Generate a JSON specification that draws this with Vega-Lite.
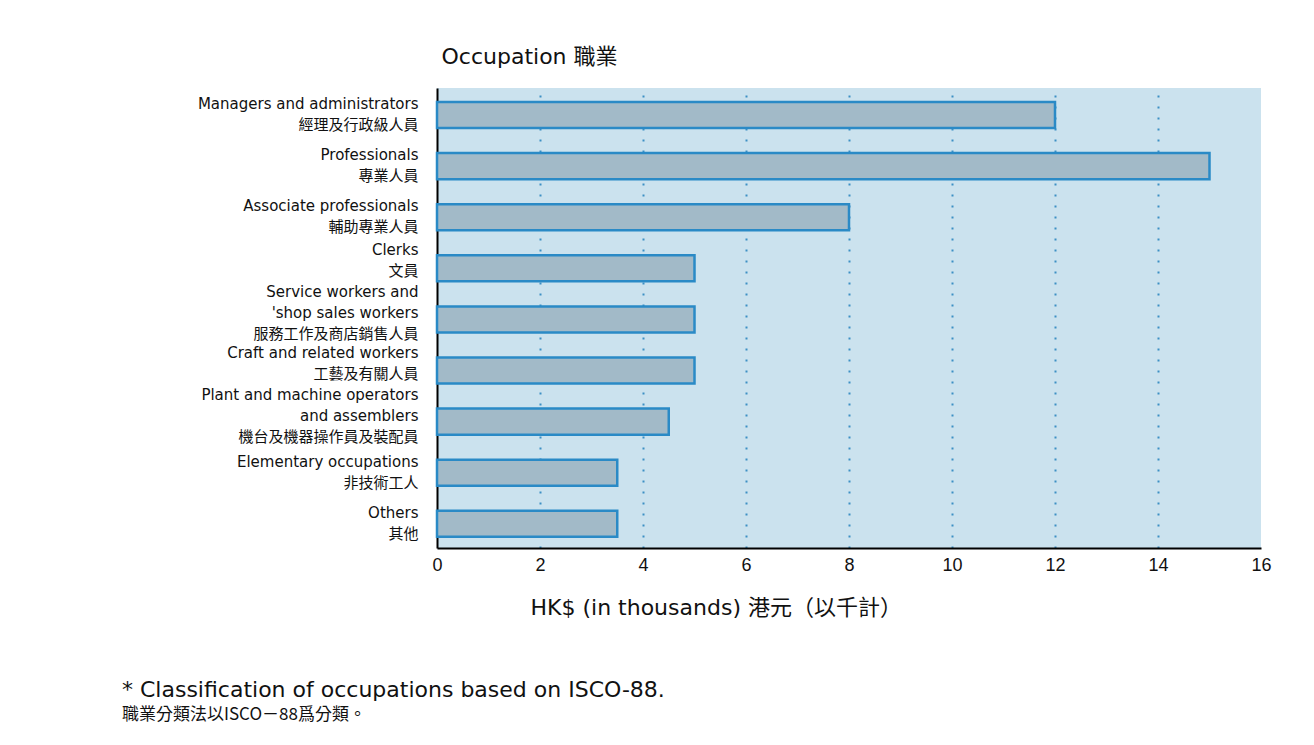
{
  "$schema": "https://vega.github.io/schema/vega-lite/v6.json",
  "autosize": {"type": "none"},
  "padding": {"left": 437, "top": 88, "right": 53, "bottom": 197},
  "width": 824,
  "height": 460,
  "background": "white",
  "config": {
    "view": {"fill": "#cbe2ee", "stroke": null},
    "font": "DejaVu Sans"
  },
  "title": {
    "text": "* Classification of occupations based on ISCO-88.",
    "subtitle": "職業分類法以ISCO－88爲分類。",
    "orient": "bottom",
    "anchor": "start",
    "frame": "group",
    "dx": -315,
    "offset": 62,
    "font": "DejaVu Sans",
    "fontSize": 22,
    "fontWeight": "normal",
    "color": "#111111",
    "subtitleFont": "Noto Sans CJK TC",
    "subtitleFontSize": 17,
    "subtitleColor": "#111111",
    "subtitlePadding": 5
  },
  "data": {
    "values": [
      {"occupation": "Managers and administrators|經理及行政級人員", "value": 12},
      {"occupation": "Professionals|專業人員", "value": 15},
      {"occupation": "Associate professionals|輔助專業人員", "value": 8},
      {"occupation": "Clerks|文員", "value": 5},
      {"occupation": "Service workers and|'shop sales workers|服務工作及商店銷售人員", "value": 5},
      {"occupation": "Craft and related workers|工藝及有關人員", "value": 5},
      {"occupation": "Plant and machine operators|and assemblers|機台及機器操作員及裝配員", "value": 4.5},
      {"occupation": "Elementary occupations|非技術工人", "value": 3.5},
      {"occupation": "Others|其他", "value": 3.5}
    ]
  },
  "mark": {"type": "bar", "fill": "#a2bac8", "stroke": "#2a8ac6", "strokeWidth": 2.5},
  "encoding": {
    "y": {
      "field": "occupation",
      "type": "nominal",
      "sort": null,
      "scale": {"paddingInner": 0.49, "paddingOuter": 0.246, "align": 0.556},
      "axis": {
        "title": "Occupation  職業",
        "titleAngle": 0,
        "titleAlign": "left",
        "titleBaseline": "middle",
        "titleX": 4,
        "titleY": -32,
        "titleFont": "DejaVu Sans, Noto Sans CJK TC",
        "titleFontSize": 22,
        "titleFontWeight": "normal",
        "titleColor": "#111111",
        "labelExpr": "split(datum.label, '|')",
        "labelLineHeight": 21,
        "labelBaseline": "middle",
        "labelOffset": {
          "condition": [
            {"test": "length(split(datum.value, '|')) == 3", "value": -27},
            {"test": "indexof(datum.value, 'Clerks') == 0", "value": -18},
            {"test": "indexof(datum.value, 'Craft') == 0", "value": -18}
          ],
          "value": -11
        },
        "labelFontSize": 15,
        "labelFont": "DejaVu Sans, Noto Sans CJK TC",
        "labelColor": "#111111",
        "labelPadding": 19,
        "labelLimit": 400,
        "ticks": false,
        "grid": false,
        "domainColor": "#000000",
        "domainWidth": 2
      }
    },
    "x": {
      "field": "value",
      "type": "quantitative",
      "scale": {"domain": [0, 16], "nice": false},
      "axis": {
        "values": [0, 2, 4, 6, 8, 10, 12, 14, 16],
        "title": "HK$ (in thousands)    港元（以千計）",
        "titleFont": "DejaVu Sans, Noto Sans CJK TC",
        "titleFontSize": 22,
        "titleFontWeight": "normal",
        "titleColor": "#111111",
        "titleAlign": "left",
        "titleBaseline": "middle",
        "titleX": 93,
        "titleY": 59,
        "labelFont": "Liberation Sans",
        "labelFontSize": 18,
        "labelColor": "#111111",
        "labelPadding": 8,
        "labelFlush": false,
        "ticks": false,
        "domainColor": "#000000",
        "domainWidth": 2,
        "grid": true,
        "gridColor": "#3d8fc4",
        "gridWidth": 2,
        "gridDash": [2, 9],
        "gridOpacity": {"condition": {"test": "datum.value == 0 || datum.value == 16", "value": 0}, "value": 1}
      }
    }
  }
}
